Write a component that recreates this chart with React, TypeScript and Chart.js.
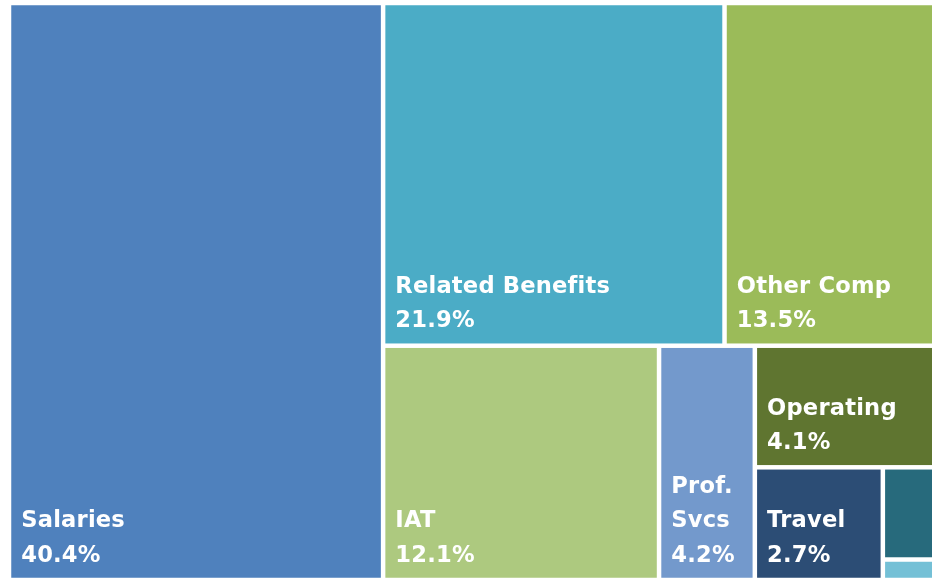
import React, { useEffect, useRef } from "react";
import { Chart, registerables } from "chart.js";

Chart.register(...registerables);

// ---- data ----
const categories = [
  "Salaries",
  "Related Benefits",
  "Other Comp",
  "IAT",
  "Prof. Svcs",
  "Operating",
  "Travel",
  "Capital",
  "Other",
];
const shares = [40.4, 21.9, 13.5, 12.1, 4.2, 4.1, 2.7, 0.9, 0.2];

// ---- palette ----
const palette = [
  "#4f81bd",
  "#4bacc6",
  "#9bbb59",
  "#adc97f",
  "#7399cc",
  "#5f7530",
  "#2c4d75",
  "#276a7c",
  "#74c0d6",
];

type Leaf = { i: number; x0: number; y0: number; x1: number; y1: number };

function layout(
  idx: number[],
  x0: number,
  y0: number,
  x1: number,
  y1: number,
  pxW: (a: number, b: number) => number,
  pxH: (a: number, b: number) => number,
  out: Leaf[]
) {
  if (idx.length === 0) return;
  if (idx.length === 1) {
    out.push({ i: idx[0], x0, y0, x1, y1 });
    return;
  }
  const total = idx.reduce((s, k) => s + shares[k], 0);
  let best = 0;
  let bestDiff = Infinity;
  let acc = 0;
  for (let k = 0; k < idx.length - 1; k++) {
    acc += shares[idx[k]];
    const d = Math.abs(acc - (total - acc));
    if (d < bestDiff) {
      bestDiff = d;
      best = k;
    }
  }
  const a = idx.slice(0, best + 1);
  const b = idx.slice(best + 1);
  const sa = a.reduce((s, k) => s + shares[k], 0);
  const f = sa / total;
  if (pxW(x0, x1) >= pxH(y0, y1)) {
    const xm = x0 + (x1 - x0) * f;
    layout(a, x0, y0, xm, y1, pxW, pxH, out);
    layout(b, xm, y0, x1, y1, pxW, pxH, out);
  } else {
    const ym = y0 + (y1 - y0) * f;
    layout(a, x0, y0, x1, ym, pxW, pxH, out);
    layout(b, x0, ym, x1, y1, pxW, pxH, out);
  }
}

const treemapPlugin = {
  id: "treemapDraw",
  afterDatasetsDraw(chart: any) {
    const xs = chart.scales.x;
    const ys = chart.scales.y;
    const ctx: any = chart.ctx;
    const order = shares.map((_, i) => i).sort((p, q) => shares[q] - shares[p]);
    const leaves: Leaf[] = [];
    const pxW = (a: number, b: number) =>
      Math.abs(xs.getPixelForValue(b) - xs.getPixelForValue(a));
    const pxH = (a: number, b: number) =>
      Math.abs(ys.getPixelForValue(b) - ys.getPixelForValue(a));
    layout(order, xs.min, ys.min, xs.max, ys.max, pxW, pxH, leaves);

    const gap = 2.25;
    const padX = 10;
    const padBottom = 16;
    const lineH = 34.5;
    const font = 'bold 22.6px "DejaVu Sans"';
    ctx.save();
    for (const lf of leaves) {
      const left = Math.min(xs.getPixelForValue(lf.x0), xs.getPixelForValue(lf.x1)) + gap;
      const right = Math.max(xs.getPixelForValue(lf.x0), xs.getPixelForValue(lf.x1)) - gap;
      const top = Math.min(ys.getPixelForValue(lf.y0), ys.getPixelForValue(lf.y1)) + gap;
      const bottom = Math.max(ys.getPixelForValue(lf.y0), ys.getPixelForValue(lf.y1)) - gap;
      ctx.fillStyle = palette[lf.i];
      ctx.fillRect(left, top, right - left, bottom - top);

      // label
      ctx.font = font;
      if ("letterSpacing" in ctx) ctx.letterSpacing = "0.2px";
      const avail = right - left - 2 * padX + 2;
      const words = categories[lf.i].split(" ");
      const lines: string[] = [];
      let cur = "";
      let ok = true;
      for (const w of words) {
        if (ctx.measureText(w).width > avail) ok = false;
        const t = cur ? cur + " " + w : w;
        if (ctx.measureText(t).width <= avail) cur = t;
        else {
          if (cur) lines.push(cur);
          cur = w;
        }
      }
      if (cur) lines.push(cur);
      const pct = shares[lf.i].toFixed(1) + "%";
      if (ctx.measureText(pct).width > avail) ok = false;
      lines.push(pct);
      if (lines.length * lineH + 4 > bottom - top) ok = false;
      if (!ok) continue;
      ctx.fillStyle = "#ffffff";
      ctx.textAlign = "left";
      ctx.textBaseline = "alphabetic";
      for (let k = 0; k < lines.length; k++) {
        const yb = bottom - padBottom - (lines.length - 1 - k) * lineH;
        ctx.fillText(lines[k], left + padX, yb);
      }
    }
    ctx.restore();
  },
};

export default function App() {
  const ref = useRef<HTMLCanvasElement | null>(null);
  useEffect(() => {
    if (!ref.current) return;
    const chart = new Chart(ref.current, {
      type: "scatter",
      data: {
        labels: categories,
        datasets: [{ label: "Share", data: [], pointRadius: 0 }],
      },
      options: {
        animation: false,
        responsive: false,
        maintainAspectRatio: false,
        layout: { padding: 0 },
        plugins: {
          legend: { display: false },
          tooltip: { enabled: false },
          title: { display: false },
        },
        scales: {
          x: { type: "linear", min: 0, max: 100, display: false },
          y: { type: "linear", min: 0, max: 100, reverse: true, display: false },
        },
      },
      plugins: [treemapPlugin],
    });
    return () => chart.destroy();
  }, []);
  return (
    <div
      style={{
        position: "fixed",
        left: 0,
        top: 0,
        width: 932,
        height: 583,
        overflow: "hidden",
        background: "#ffffff",
      }}
    >
      <canvas
        ref={ref}
        width={926}
        height={577}
        style={{ position: "absolute", left: 9, top: 3, width: 926, height: 577 }}
      />
    </div>
  );
}
